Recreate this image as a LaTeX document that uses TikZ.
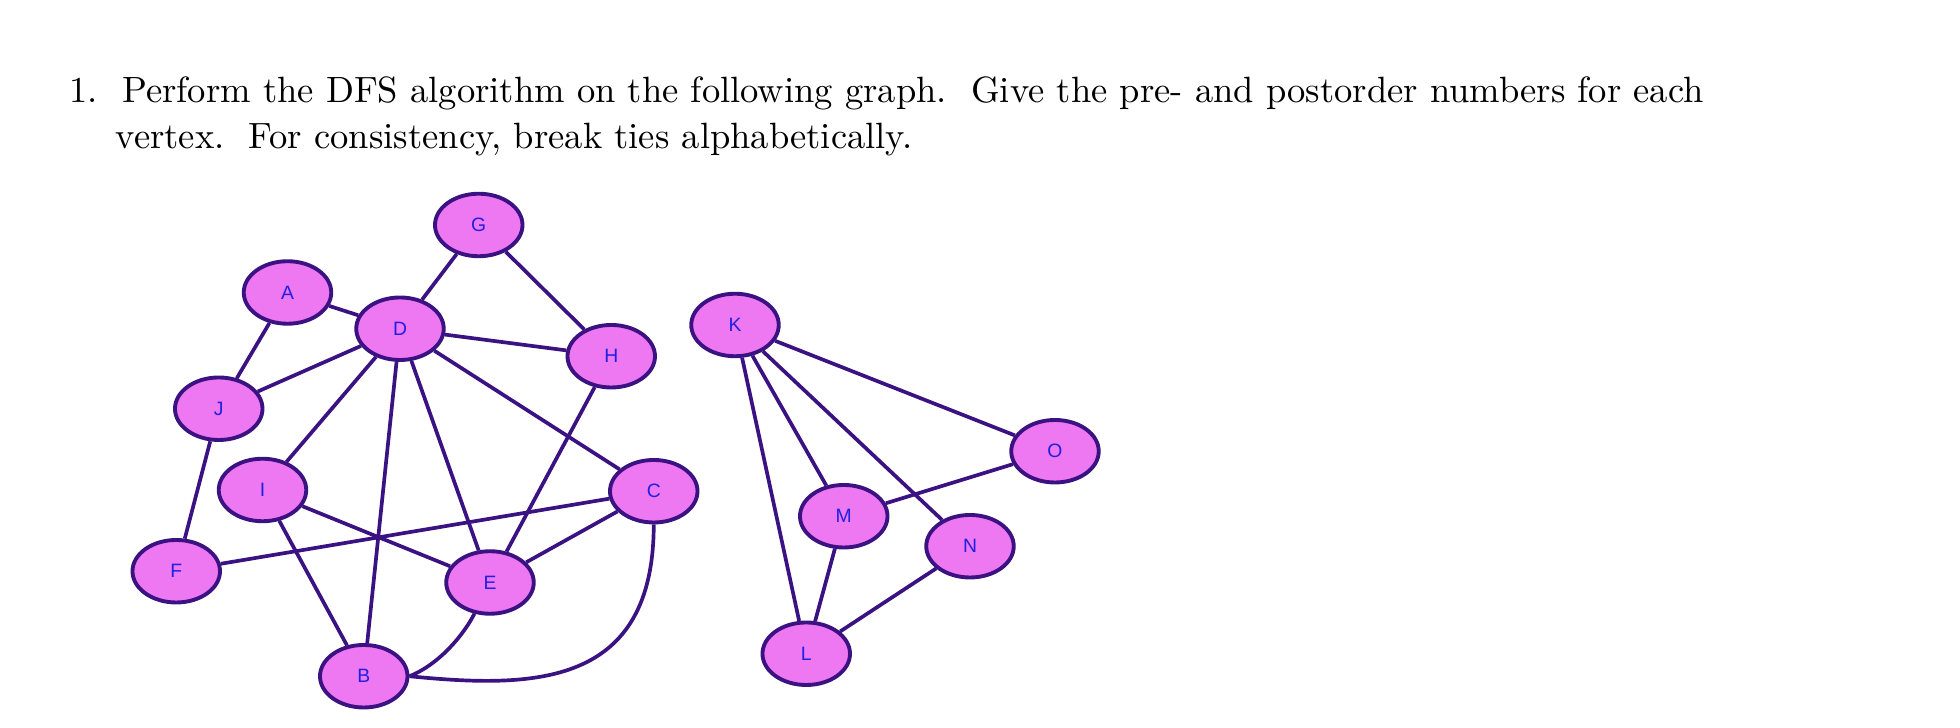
\documentclass[tikz,border=0pt]{standalone}
\usepackage{fontspec}
\usetikzlibrary{shapes.geometric}
\newfontfamily\lab{Liberation Sans}
\definecolor{vfill}{HTML}{EE77F2}
\definecolor{vedge}{HTML}{3A1282}
\definecolor{vtext}{HTML}{2020E0}
\begin{document}
\begin{tikzpicture}[x=0.0125cm,y=-0.0125cm,
  v/.style={ellipse,draw=vedge,fill=vfill,line width=1.1pt,minimum width=0.875cm,minimum height=0.625cm,inner sep=0pt,font=\lab\fontsize{5.5}{6}\selectfont,text=vtext},
  e/.style={draw=vedge,line width=1.05pt}]
\useasboundingbox (0,0) rectangle (1568,582.4);
\node[anchor=base west,inner sep=0pt,font=\fontsize{10.4}{13.1}\selectfont] (t1) at (55,82) {1.\ \ Perform the DFS algorithm on the following graph.\ \ Give the pre- and postorder numbers for each};
\node[anchor=base west,inner sep=0pt,font=\fontsize{10.4}{13.1}\selectfont] (t2) at (92,119) {vertex.\ \ For consistency, break ties alphabetically.};
\node[v] (G) at (383,180) {G};
\node[v] (A) at (230,234) {A};
\node[v] (D) at (320,263) {D};
\node[v] (H) at (489,285) {H};
\node[v] (K) at (588,260) {K};
\node[v] (J) at (175,327) {J};
\node[v] (O) at (844,361) {O};
\node[v] (I) at (210,392) {I};
\node[v] (C) at (523,393) {C};
\node[v] (M) at (675,413) {M};
\node[v] (N) at (776,437) {N};
\node[v] (F) at (141,457) {F};
\node[v] (E) at (392,466) {E};
\node[v] (L) at (645,523) {L};
\node[v] (B) at (291,541) {B};
\begin{scope}[every path/.style={e}]
\draw (G) -- (D);
\draw (G) -- (H);
\draw (A) -- (D);
\draw (A) -- (J);
\draw (D) -- (J);
\draw (D) -- (H);
\draw (D) -- (I);
\draw (D) -- (B);
\draw (D) -- (E);
\draw (D) -- (C);
\draw (H) -- (E);
\draw (I) -- (E);
\draw (I) -- (B);
\draw (C) -- (F);
\draw (C) -- (E);
\draw (C.south) .. controls +(0,130) and +(100,10) .. (B.east);
\draw (E) .. controls +(-20,40) and +(25,-10) .. (B.east);
\draw (J) -- (F);
\draw (K) -- (O);
\draw (K) -- (M);
\draw (K) -- (N);
\draw (K) -- (L);
\draw (M) -- (O);
\draw (M) -- (L);
\draw (N) -- (L);
\end{scope}
\end{tikzpicture}
\end{document}
